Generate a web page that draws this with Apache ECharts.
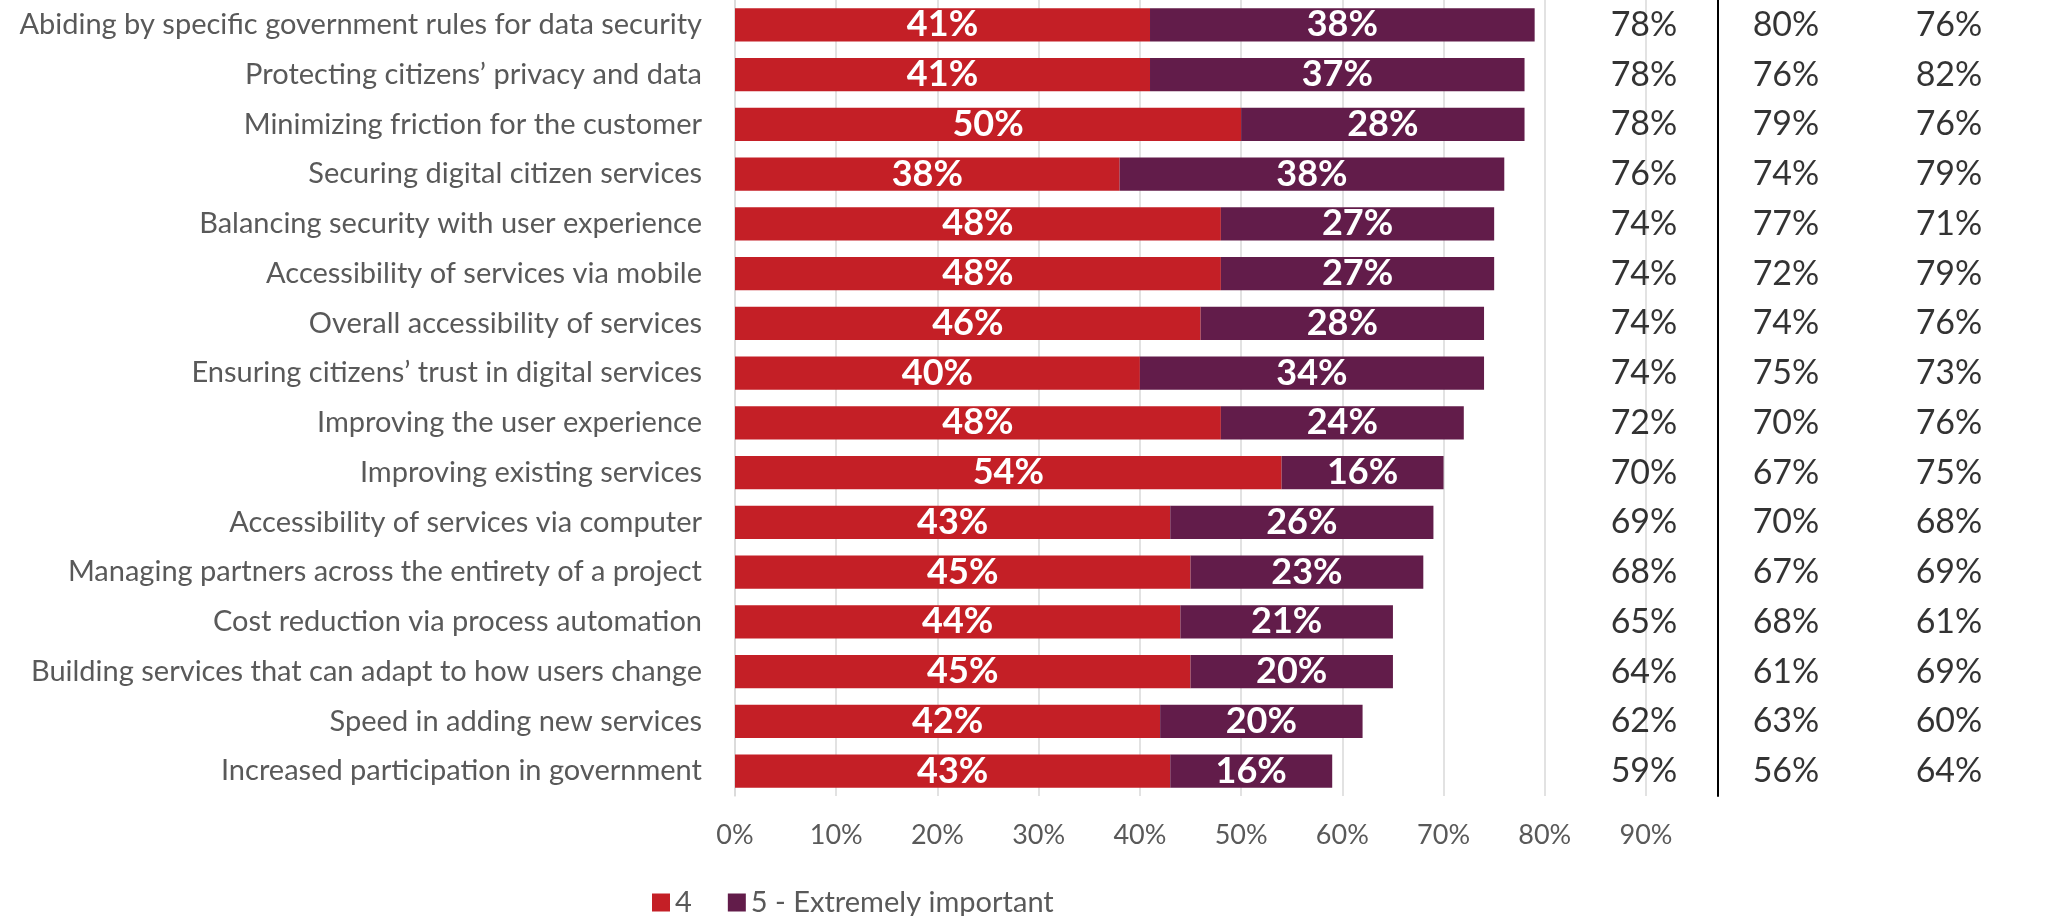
<!DOCTYPE html>
<html>
<head>
<meta charset="utf-8">
<title>Priorities for digital government services</title>
<script src="https://cdn.jsdelivr.net/npm/echarts@6/dist/echarts.min.js"></script>
<style>
  html, body { margin: 0; padding: 0; background: #ffffff; }
  #chart { width: 2057px; height: 916px; }
</style>
</head>
<body>
<div id="chart"></div>
<script>
// Priorities, ranked by combined share of ratings 4 and 5
const categories = [
  'Abiding by specific government rules for data security',
  'Protecting citizens\u2019 privacy and data',
  'Minimizing friction for the customer',
  'Securing digital citizen services',
  'Balancing security with user experience',
  'Accessibility of services via mobile',
  'Overall accessibility of services',
  'Ensuring citizens\u2019 trust in digital services',
  'Improving the user experience',
  'Improving existing services',
  'Accessibility of services via computer',
  'Managing partners across the entirety of a project',
  'Cost reduction via process automation',
  'Building services that can adapt to how users change',
  'Speed in adding new services',
  'Increased participation in government'
];

// Share rating "4" (%)
const rating4 = [41, 41, 50, 38, 48, 48, 46, 40, 48, 54, 43, 45, 44, 45, 42, 43];
// Share rating "5 - Extremely important" (%)
const rating5 = [38, 37, 28, 38, 27, 27, 28, 34, 24, 16, 26, 23, 21, 20, 20, 16];

// Table columns to the right of the bars (%)
const totalTop2 = [78, 78, 78, 76, 74, 74, 74, 74, 72, 70, 69, 68, 65, 64, 62, 59];
const groupA    = [80, 76, 79, 74, 77, 72, 74, 75, 70, 67, 70, 67, 68, 61, 63, 56];
const groupB    = [76, 82, 76, 79, 71, 79, 76, 73, 76, 75, 68, 69, 61, 69, 60, 64];

// Value axis ticks
const xMin = 0, xMax = 90, xStep = 10;

const RED = '#C41F26';
const PURPLE = '#621C4A';
const GRID_GRAY = '#D9D9D9';
const TEXT_GRAY = '#595959';
const FONT = 'Lato, "Open Sans", sans-serif';

const chart = echarts.init(document.getElementById('chart'), null, { renderer: 'canvas' });

// Layout of the main plot and the three table columns
const plotTop = -2, plotHeight = 798;
const tableCols = [
  { data: totalTop2, left: 1584, width: 120, divider: false },
  { data: groupA,    left: 1718, width: 136, divider: true },
  { data: groupB,    left: 1889, width: 120, divider: false }
];

const grids = [{ left: 735, width: 911, top: plotTop, height: plotHeight }];
const xAxes = [{
  type: 'value', gridIndex: 0, min: xMin, max: xMax, interval: xStep,
  axisLine: { show: false }, axisTick: { show: false },
  splitLine: { show: true, lineStyle: { color: GRID_GRAY, width: 1.5 } },
  axisLabel: { formatter: '{value}%', color: TEXT_GRAY, fontFamily: FONT, fontSize: 27, margin: 26 }
}];
const yAxes = [{
  type: 'category', gridIndex: 0, data: categories, inverse: true,
  axisLine: { show: true, lineStyle: { color: GRID_GRAY, width: 1.5 } },
  axisTick: { show: false },
  axisLabel: { color: TEXT_GRAY, fontFamily: FONT, fontSize: 29, margin: 33 }
}];

const barLabel = {
  show: true, position: 'inside', color: '#ffffff',
  fontFamily: FONT, fontWeight: 'bold', fontSize: 36,
  formatter: p => p.value + '%'
};

const series = [
  {
    name: '4', type: 'bar', stack: 'share', xAxisIndex: 0, yAxisIndex: 0,
    data: rating4, barCategoryGap: '33%',
    itemStyle: { color: RED }, label: barLabel
  },
  {
    name: '5 - Extremely important', type: 'bar', stack: 'share', xAxisIndex: 0, yAxisIndex: 0,
    data: rating5, barCategoryGap: '33%',
    itemStyle: { color: PURPLE }, label: barLabel
  }
];

tableCols.forEach((col, i) => {
  const gi = i + 1;
  grids.push({ left: col.left, width: col.width, top: plotTop, height: plotHeight });
  xAxes.push({ type: 'category', gridIndex: gi, data: [''], show: false });
  yAxes.push({
    type: 'category', gridIndex: gi, data: categories, inverse: true,
    axisLine: { show: col.divider, lineStyle: { color: '#000000', width: 2 } },
    axisTick: { show: false }, axisLabel: { show: false }, splitLine: { show: false }
  });
  series.push({
    type: 'scatter', xAxisIndex: gi, yAxisIndex: gi,
    symbolSize: 0, silent: true,
    data: col.data.map((v, k) => [0, k, v]),
    label: {
      show: true, position: 'inside', color: '#000000',
      fontFamily: FONT, fontSize: 34,
      formatter: p => p.value[2] + '%'
    }
  });
});

chart.setOption({
  animation: false,
  backgroundColor: '#ffffff',
  grid: grids,
  xAxis: xAxes,
  yAxis: yAxes,
  legend: {
    data: ['4', '5 - Extremely important'],
    left: 647, top: 883,
    itemWidth: 18, itemHeight: 18, itemGap: 36,
    icon: 'rect',
    textStyle: { color: TEXT_GRAY, fontFamily: FONT, fontSize: 29 }
  },
  series: series
});
</script>
</body>
</html>
